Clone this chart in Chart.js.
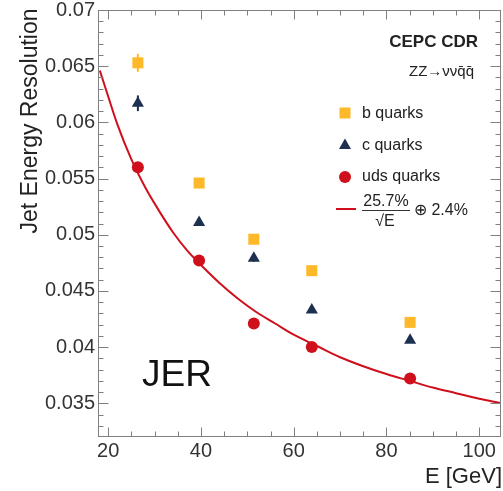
<!DOCTYPE html>
<html>
<head>
<meta charset="utf-8">
<script src="https://cdn.jsdelivr.net/npm/chart.js@4/dist/chart.umd.min.js"></script>
<style>
  html, body { margin: 0; padding: 0; background: #fff; }
  #wrap { width: 503px; height: 491px; position: relative; }
</style>
</head>
<body>
<div id="wrap"><canvas id="c" width="503" height="491"></canvas></div>
<script>
// ---- data ----
const energies = [26.4, 39.6, 51.4, 63.9, 85.1];           // E [GeV]
const bQuarks   = [0.0653, 0.0546, 0.0496, 0.0468, 0.0422];
const bErr      = [0.0008, 0.0003, 0.0003, 0.0002, 0.0002];
const cQuarks   = [0.0617, 0.0511, 0.0479, 0.0433, 0.0406];
const cErr      = [0.0007, 0.0003, 0.0003, 0.0002, 0.0002];
const udsQuarks = [0.0560, 0.0477, 0.0421, 0.0400, 0.0372];
// fit curve (25.7%/sqrt(E) (+) 2.4%)
const fitE   = [18.2, 20, 22, 25, 28, 31, 34, 37, 40, 44, 48, 52, 56, 60, 65, 70, 75, 80, 85, 90, 95, 100, 104.7];
const fitVal = [0.0646, 0.0623, 0.0598, 0.0567, 0.0542, 0.0521, 0.0502, 0.0486, 0.0473, 0.0457, 0.0443, 0.0431, 0.0421, 0.0411, 0.0401, 0.0391, 0.0383, 0.0376, 0.0370, 0.0364, 0.0359, 0.0354, 0.0350];
const xTicks = [20, 40, 60, 80, 100];
const yTicks = [0.035, 0.04, 0.045, 0.05, 0.055, 0.06, 0.065, 0.07];

const ORANGE = '#FDB92A';
const NAVY   = '#1E3050';
const RED    = '#CF101C';
const FONT   = '"Liberation Sans", Arial, Helvetica, sans-serif';

const pts = (xs, ys) => xs.map((x, i) => ({ x: x, y: ys[i] }));

// error bars + inner ticks + frame
const decor = {
  id: 'decor',
  beforeDatasetsDraw(chart) {
    const ctx = chart.ctx, xs = chart.scales.x, ys = chart.scales.y;
    const sets = [[bQuarks, bErr, ORANGE], [cQuarks, cErr, NAVY]];
    ctx.save();
    ctx.lineWidth = 2;
    sets.forEach(([vals, errs, col]) => {
      ctx.strokeStyle = col;
      vals.forEach((v, i) => {
        const px = xs.getPixelForValue(energies[i]);
        ctx.beginPath();
        ctx.moveTo(px, ys.getPixelForValue(v - errs[i]));
        ctx.lineTo(px, ys.getPixelForValue(v + errs[i]));
        ctx.stroke();
      });
    });
    ctx.restore();
  },
  afterDraw(chart) {
    const ctx = chart.ctx, a = chart.chartArea, xs = chart.scales.x, ys = chart.scales.y;
    ctx.save();
    ctx.strokeStyle = '#808080';
    ctx.lineWidth = 1;
    const L = Math.round(a.left) + 0.5, R = Math.round(a.right) - 0.5;
    const T = Math.round(a.top) + 0.5, B = Math.round(a.bottom) - 0.5;
    ctx.strokeRect(L, T, R - L, B - T);
    ctx.beginPath();
    // x ticks (minor every 5, major every 20)
    for (let v = 20; v <= 104; v += 5) {
      const px = Math.round(xs.getPixelForValue(v)) + 0.5;
      const len = (v % 20 === 0) ? 9 : 5;
      ctx.moveTo(px, B); ctx.lineTo(px, B - len);
      ctx.moveTo(px, T); ctx.lineTo(px, T + len);
    }
    // y ticks (minor every 0.001, major every 0.005)
    for (let k = 33; k <= 70; k++) {
      const v = k / 1000;
      const py = Math.round(ys.getPixelForValue(v)) + 0.5;
      const len = (k % 5 === 0) ? 10 : 5;
      ctx.moveTo(L, py); ctx.lineTo(L + len, py);
      ctx.moveTo(R, py); ctx.lineTo(R - len, py);
    }
    ctx.stroke();

    // texts
    ctx.fillStyle = '#222';
    ctx.textBaseline = 'middle';
    // y title
    ctx.save();
    ctx.translate(37, 121);
    ctx.rotate(-Math.PI / 2);
    ctx.textAlign = 'center';
    ctx.textBaseline = 'alphabetic';
    ctx.font = '23px ' + FONT;
    ctx.fillText('Jet Energy Resolution', 0, 0);
    ctx.restore();
    // x title
    ctx.textAlign = 'right';
    ctx.font = '22px ' + FONT;
    ctx.fillText('E [GeV]', 502, 477);
    // JER
    ctx.textAlign = 'left';
    ctx.fillStyle = '#111';
    ctx.font = '37px ' + FONT;
    ctx.fillText('JER', 142, 376);
    // CEPC CDR
    ctx.fillStyle = '#222';
    ctx.textAlign = 'right';
    ctx.font = 'bold 17px ' + FONT;
    ctx.fillText('CEPC CDR', 478, 42);
    // ZZ -> nu nu q qbar
    ctx.font = '15px ' + FONT;
    ctx.fillText('ZZ\u2192\u03bd\u03bdq\u0304q\u0304', 474, 72);

    // legend
    ctx.textAlign = 'left';
    ctx.font = '16px ' + FONT;
    const lx = 345, tx = 362;
    ctx.fillStyle = ORANGE;
    ctx.fillRect(lx - 5.5, 113 - 5.5, 11, 11);
    ctx.fillStyle = NAVY;
    ctx.beginPath();
    ctx.moveTo(lx, 145 - 6.5); ctx.lineTo(lx + 6, 145 + 4); ctx.lineTo(lx - 6, 145 + 4); ctx.closePath();
    ctx.fill();
    ctx.fillStyle = RED;
    ctx.beginPath(); ctx.arc(lx, 177, 6, 0, Math.PI * 2); ctx.fill();
    ctx.fillStyle = '#222';
    ctx.fillText('b quarks', tx, 114);
    ctx.fillText('c quarks', tx, 146);
    ctx.fillText('uds quarks', tx, 177);
    // fit legend
    ctx.strokeStyle = RED; ctx.lineWidth = 2;
    ctx.beginPath(); ctx.moveTo(336, 209); ctx.lineTo(356, 209); ctx.stroke();
    ctx.textAlign = 'center';
    ctx.font = '16px ' + FONT;
    ctx.fillText('25.7%', 386, 202);
    ctx.strokeStyle = '#333'; ctx.lineWidth = 1;
    ctx.beginPath(); ctx.moveTo(362, 210.5); ctx.lineTo(410, 210.5); ctx.stroke();
    ctx.fillText('\u221AE', 385, 222);
    ctx.textAlign = 'left';
    ctx.fillText('\u2295 2.4%', 414, 211);
    ctx.restore();
  }
};

new Chart(document.getElementById('c'), {
  type: 'scatter',
  data: {
    datasets: [
      { label: 'b quarks', data: pts(energies, bQuarks), pointStyle: 'rect', pointRadius: 7.8,
        backgroundColor: ORANGE, borderColor: ORANGE, borderWidth: 0, order: 0 },
      { label: 'c quarks', data: pts(energies, cQuarks), pointStyle: 'triangle', pointRadius: 7,
        backgroundColor: NAVY, borderColor: NAVY, borderWidth: 0, order: 0 },
      { label: 'uds quarks', data: pts(energies, udsQuarks), pointStyle: 'circle', pointRadius: 6,
        backgroundColor: RED, borderColor: RED, borderWidth: 0, order: 0 },
      { type: 'line', label: 'fit', data: pts(fitE, fitVal), borderColor: RED, borderWidth: 2,
        pointRadius: 0, fill: false, cubicInterpolationMode: 'monotone', order: 10 }
    ]
  },
  options: {
    responsive: false,
    animation: false,
    devicePixelRatio: 1,
    layout: { autoPadding: false, padding: { top: 10, right: 2, left: 0, bottom: 0 } },
    plugins: { legend: { display: false }, tooltip: { enabled: false } },
    scales: {
      x: {
        type: 'linear', min: 17.8, max: 104.7,
        afterFit(s) { s.height = 54; s.paddingLeft = 0; s.paddingRight = 0; },
        afterBuildTicks(s) { s.ticks = xTicks.map(v => ({ value: v })); },
        grid: { display: false, drawTicks: false },
        border: { display: false },
        ticks: { color: '#333', font: { family: FONT, size: 20 }, padding: 2, maxRotation: 0,
                 callback: v => String(v) }
      },
      y: {
        type: 'linear', min: 0.032, max: 0.07,
        afterFit(s) { s.width = 98; s.paddingTop = 0; s.paddingBottom = 0; },
        afterBuildTicks(s) { s.ticks = yTicks.map(v => ({ value: v })); },
        grid: { display: false, drawTicks: false },
        border: { display: false },
        ticks: { color: '#333', font: { family: FONT, size: 20 }, padding: 3,
                 callback: v => String(+v.toFixed(3)) }
      }
    }
  },
  plugins: [decor]
});
</script>
</body>
</html>
